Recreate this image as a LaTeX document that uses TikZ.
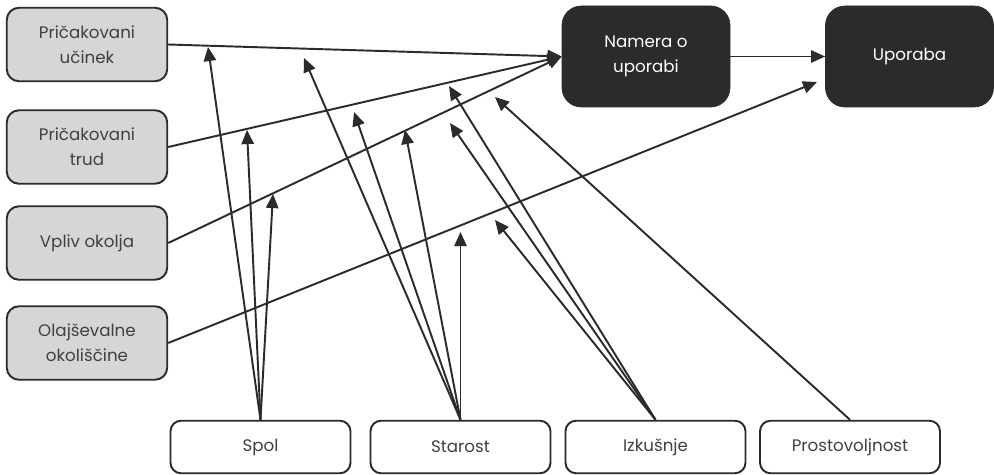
\documentclass[tikz,border=0pt]{standalone}
\usepackage{fontspec}
\setmainfont{Poppins}
\usepackage{xcolor}
\usepackage{tikz}
\usetikzlibrary{arrows.meta}

\definecolor{boxgray}{HTML}{D6D6D6}
\definecolor{boxdark}{HTML}{2B2B2B}
\definecolor{linedark}{HTML}{2B2B2B}

\begin{document}
\begin{tikzpicture}[
        font=\fontsize{9.5pt}{14pt}\selectfont,
        graybox/.style = {draw=linedark, line width=1.1pt, fill=boxgray, rounded corners=7pt, text=linedark!90, align=center, minimum width=3.21cm, minimum height=1.47cm},
        darkbox/.style = {draw=boxdark, fill=boxdark, rounded corners=11pt, text=white, align=center, minimum width=3.36cm, minimum height=2.02cm},
        modbox/.style = {draw=linedark, line width=1.1pt, fill=white, rounded corners=6pt, text=linedark!90, minimum width=3.6cm, minimum height=1.05cm},
        arrow/.style = {-{Triangle[length=8pt, width=7pt]}, line width=1.1pt, draw=linedark}
    ]
    \useasboundingbox (0,0) rectangle (19.88,-9.5);

    % Left column of constructs
    \node[graybox] (ucinek) at (1.74,-0.89) {Pričakovani\\učinek};
    \node[graybox] (trud) at (1.74,-2.94) {Pričakovani\\trud};
    \node[graybox] (vpliv) at (1.74,-4.86) {Vpliv okolja};
    \node[graybox] (olaj) at (1.74,-6.86) {Olajševalne\\okoliščine};

    % Intention and use
    \node[darkbox] (namera) at (12.92,-1.13) {Namera o\\uporabi};
    \node[darkbox] (uporaba) at (18.19,-1.13) {Uporaba};

    % Moderators along the bottom
    \node[modbox] (spol) at (5.21,-8.94) {Spol};
    \node[modbox] (starost) at (9.21,-8.94) {Starost};
    \node[modbox] (izkusnje) at (13.11,-8.94) {Izkušnje};
    \node[modbox] (prostovoljnost) at (17.0,-8.94) {Prostovoljnost};

    % Free ends of the moderator arrows
    \coordinate (sp1) at (4.16,-0.94);
    \coordinate (sp2) at (4.94,-2.60);
    \coordinate (sp3) at (5.46,-3.88);
    \coordinate (st1) at (6.08,-1.16);
    \coordinate (st2) at (7.08,-2.24);
    \coordinate (st3) at (8.10,-2.60);
    \coordinate (st4) at (9.21,-4.64);
    \coordinate (iz1) at (8.98,-1.72);
    \coordinate (iz2) at (9.00,-2.46);
    \coordinate (iz3) at (9.90,-4.40);
    \coordinate (pr1) at (9.90,-1.94);
    \coordinate (up) at (16.34,-1.64);

    % Main paths
    \draw[arrow] (ucinek.east) -- (namera.west);
    \draw[arrow] (trud.east) -- (namera.west);
    \draw[arrow] (vpliv.east) -- (namera.west);
    \draw[arrow] (olaj.east) -- (up);
    \draw[arrow] (namera) -- (uporaba);

    % Moderator arrows
    \draw[arrow] (spol.north) -- (sp1);
    \draw[arrow] (spol.north) -- (sp2);
    \draw[arrow] (spol.north) -- (sp3);
    \draw[arrow] (starost.north) -- (st1);
    \draw[arrow] (starost.north) -- (st2);
    \draw[arrow] (starost.north) -- (st3);
    \draw[arrow] (starost.north) -- (st4);
    \draw[arrow] (izkusnje.north) -- (iz1);
    \draw[arrow] (izkusnje.north) -- (iz2);
    \draw[arrow] (izkusnje.north) -- (iz3);
    \draw[arrow] (prostovoljnost.north) -- (pr1);

\end{tikzpicture}
\end{document}
